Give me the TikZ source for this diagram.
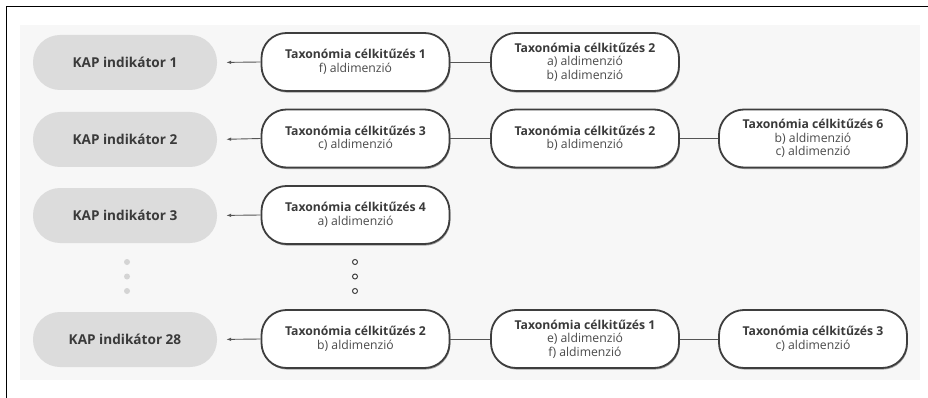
\documentclass[tikz,border=0pt]{standalone}
\usepackage{fontspec}
\setmainfont{Open Sans}
\usetikzlibrary{shadows,arrows.meta}
\definecolor{bord}{HTML}{3E3E3E}
\definecolor{txt}{HTML}{3A3A3A}
\definecolor{txtl}{HTML}{4A4A4A}
\definecolor{kapfill}{HTML}{DCDCDC}
\definecolor{bgfill}{HTML}{F7F7F7}
\definecolor{linec}{HTML}{555555}
\definecolor{dotfill}{HTML}{D4D4D4}
\tikzset{
  kap/.style={draw=none, fill=kapfill, rounded corners=27pt, minimum width=184pt, minimum height=55pt,
    font=\fontsize{13.6}{15}\selectfont\bfseries, text=txt, inner sep=0pt},
  tax/.style={draw=bord, line width=1.8pt, fill=white, rounded corners=25pt, minimum width=188pt, minimum height=58pt,
    align=center, font=\fontsize{12.2}{13.5}\selectfont, text=txtl, inner sep=0pt,
    drop shadow={shadow xshift=0.8pt, shadow yshift=-1.6pt, opacity=0.35, fill=black}},
  arr/.style={draw=linec, line width=0.9pt, -{Latex[length=5pt,width=3.5pt]}, shorten >=9pt},
  conn/.style={draw=linec, line width=0.9pt},
  gdot/.style={circle, fill=dotfill, draw=none, minimum size=6pt, inner sep=0pt},
  odot/.style={circle, fill=white, draw=bord, line width=1pt, minimum size=5pt, inner sep=0pt},
}
\newcommand{\ttl}[1]{\textcolor{txt}{\textbf{#1}}}
\begin{document}
\begin{tikzpicture}[x=1pt,y=-1pt]
\useasboundingbox (0,0) rectangle (928,398);
\fill[white] (0,0) rectangle (928,398);
\fill[bgfill] (20,25) rectangle (920,380);
\draw[black, line width=1pt] (6,398) -- (6,7) -- (928,7);

% KAP indicators
\node[kap] (k1) at (125,62.5) {KAP indikátor 1};
\node[kap] (k2) at (125,139.5) {KAP indikátor 2};
\node[kap] (k3) at (125,215.5) {KAP indikátor 3};
\node[kap] (k28) at (125,339.5) {KAP indikátor 28};

% row 1
\node[tax] (t11) at (355.5,62) {\ttl{Taxonómia célkitűzés 1}\\f) aldimenzió};
\node[tax] (t12) at (585,62) {\ttl{Taxonómia célkitűzés 2}\\a) aldimenzió\\b) aldimenzió};
% row 2
\node[tax] (t21) at (355.5,138.5) {\ttl{Taxonómia célkitűzés 3}\\c) aldimenzió};
\node[tax] (t22) at (585,138.5) {\ttl{Taxonómia célkitűzés 2}\\b) aldimenzió};
\node[tax] (t23) at (813,138.5) {\ttl{Taxonómia célkitűzés 6}\\b) aldimenzió\\c) aldimenzió};
% row 3
\node[tax] (t31) at (355.5,215) {\ttl{Taxonómia célkitűzés 4}\\a) aldimenzió};
% row 28
\node[tax] (t41) at (355.5,339) {\ttl{Taxonómia célkitűzés 2}\\b) aldimenzió};
\node[tax] (t42) at (585,339) {\ttl{Taxonómia célkitűzés 1}\\e) aldimenzió\\f) aldimenzió};
\node[tax] (t43) at (813,339) {\ttl{Taxonómia célkitűzés 3}\\c) aldimenzió};

% arrows
\draw[arr] (t11.west) -- (k1.east);
\draw[arr] (t21.west) -- (k2.east);
\draw[arr] (t31.west) -- (k3.east);
\draw[arr] (t41.west) -- (k28.east);

% connectors
\draw[conn] (t11.east) -- (t12.west);
\draw[conn] (t21.east) -- (t22.west);
\draw[conn] (t22.east) -- (t23.west);
\draw[conn] (t41.east) -- (t42.west);
\draw[conn] (t42.east) -- (t43.west);

% ellipsis dots
\node[gdot] (g1) at (127,262) {};
\node[gdot] (g2) at (127,276.5) {};
\node[gdot] (g3) at (127,291) {};
\node[odot] (o1) at (355,262) {};
\node[odot] (o2) at (355,276.5) {};
\node[odot] (o3) at (355,291) {};
\end{tikzpicture}
\end{document}
